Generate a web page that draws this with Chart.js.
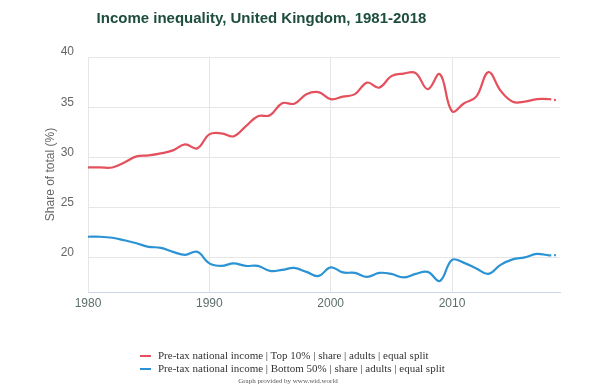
<!DOCTYPE html>
<html>
<head>
<meta charset="utf-8">
<script src="https://cdn.jsdelivr.net/npm/chart.js@4.4.1/dist/chart.umd.min.js"></script>
<style>
  body { margin: 0; background: #fff; }
  #wrap { position: relative; width: 600px; height: 389px; }
  #title { position: absolute; left: 0; width: 523px; top: 9px; text-align: center;
    font: bold 15px "Liberation Sans", Arial, sans-serif; color: #1d4d3c; }
  #legend { position: absolute; left: 140px; top: 349px; font: 11px "Liberation Serif", "Times New Roman", serif; color: #333; }
  .row { height: 13px; line-height: 13px; white-space: nowrap; }
  .mk { display: inline-block; width: 11px; height: 2px; vertical-align: middle; margin-right: 7px; }
  #credit { position: absolute; left: 0; width: 576px; top: 377px; text-align: center;
    font: 7px "Liberation Serif", serif; color: #555; }
</style>
</head>
<body>
<div id="wrap">
  <canvas id="chartBox" width="600" height="389"></canvas>
  <div id="title">Income inequality, United Kingdom, 1981-2018</div>
  <div id="legend">
    <div class="row"><span class="mk" style="background:#e4505c"></span>Pre-tax national income | Top 10% | share | adults | equal split</div>
    <div class="row"><span class="mk" style="background:#2b93d3"></span>Pre-tax national income | Bottom 50% | share | adults | equal split</div>
  </div>
  <div id="credit">Graph provided by www.wid.world</div>
</div>
<script>
const years = [1980, 1981, 1982, 1983, 1984, 1985, 1986, 1987, 1988, 1989,
  1990, 1991, 1992, 1993, 1994, 1995, 1996, 1997, 1998, 1999,
  2000, 2001, 2002, 2003, 2004, 2005, 2006, 2007, 2008, 2009,
  2010, 2011, 2012, 2013, 2014, 2015, 2016, 2017, 2018, 2018.8]
const top10 = [29.0, 29.0, 29.0, 29.5, 30.1, 30.2, 30.4, 30.7, 31.3, 30.9,
  32.3, 32.4, 32.1, 33.1, 34.1, 34.2, 35.4, 35.35, 36.3, 36.5,
  35.8, 36.05, 36.3, 37.45, 36.95, 38.1, 38.35, 38.4, 36.8, 38.3,
  34.6, 35.4, 36.05, 38.5, 36.65, 35.55, 35.55, 35.8, 35.8, 35.65]
const bottom50 = [22.1, 22.1, 22.0, 21.75, 21.45, 21.1, 21.0, 20.6, 20.3, 20.6,
  19.45, 19.2, 19.45, 19.2, 19.2, 18.7, 18.8, 19.0, 18.6, 18.2,
  19.05, 18.55, 18.5, 18.1, 18.5, 18.4, 18.05, 18.4, 18.6, 17.7,
  19.8, 19.5, 18.95, 18.4, 19.3, 19.85, 20.05, 20.4, 20.25, 20.3]
const seriesNames = ['Pre-tax national income | Top 10% | share | adults | equal split',
  'Pre-tax national income | Bottom 50% | share | adults | equal split']
const xTicks = [1980, 1990, 2000, 2010]
const yTicks = [20, 25, 30, 35, 40]

const pts = (vals) => vals.map((v, i) => ({ x: years[i], y: v }))
const lastDash = (ctx) => ctx.p0DataIndex === years.length - 2 ? [2, 3] : undefined

const makeSet = (label, vals, color) => ({
  label,
  data: pts(vals),
  borderColor: color,
  borderWidth: 2.2,
  pointRadius: 0,
  tension: 0.4,
  segment: { borderDash: lastDash }
})

const context = document.querySelector('#chartBox').getContext('2d')
const chart = new Chart(context, {
  type: 'line',
  data: {
    datasets: [
      makeSet(seriesNames[0], top10, '#e4505c'),
      makeSet(seriesNames[1], bottom50, '#2b93d3')
    ]
  },
  options: {
    responsive: false,
    animation: false,
    layout: { padding: { top: 57, right: 40, bottom: 0, left: 0 } },
    plugins: { legend: { display: false }, tooltip: { enabled: false } },
    scales: {
      x: {
        type: 'linear',
        min: 1980,
        max: 2018.9,
        afterBuildTicks: (s) => { s.ticks = xTicks.map(v => ({ value: v })) },
        afterFit: (s) => { s.height = 97 },
        grid: { color: '#e6e6e6', drawTicks: false },
        border: { color: '#ccd6eb' },
        ticks: { color: '#5d6f6c', padding: 4, font: { family: 'Liberation Sans', size: 12 }, maxRotation: 0,
          callback: (v) => String(v) }
      },
      y: {
        min: 16.6,
        max: 40,
        afterBuildTicks: (s) => { s.ticks = yTicks.map(v => ({ value: v })) },
        afterFit: (s) => { s.width = 88 },
        grid: { color: '#e6e6e6', drawTicks: false },
        border: { display: false },
        ticks: { color: '#666', padding: 14, labelOffset: -5, font: { family: 'Liberation Sans', size: 12 } },
        title: { display: true, text: 'Share of total (%)', color: '#666', padding: { top: 43, bottom: 0 },
          font: { family: 'Liberation Sans', size: 12 } }
      }
    }
  }
})
</script>
</body>
</html>
